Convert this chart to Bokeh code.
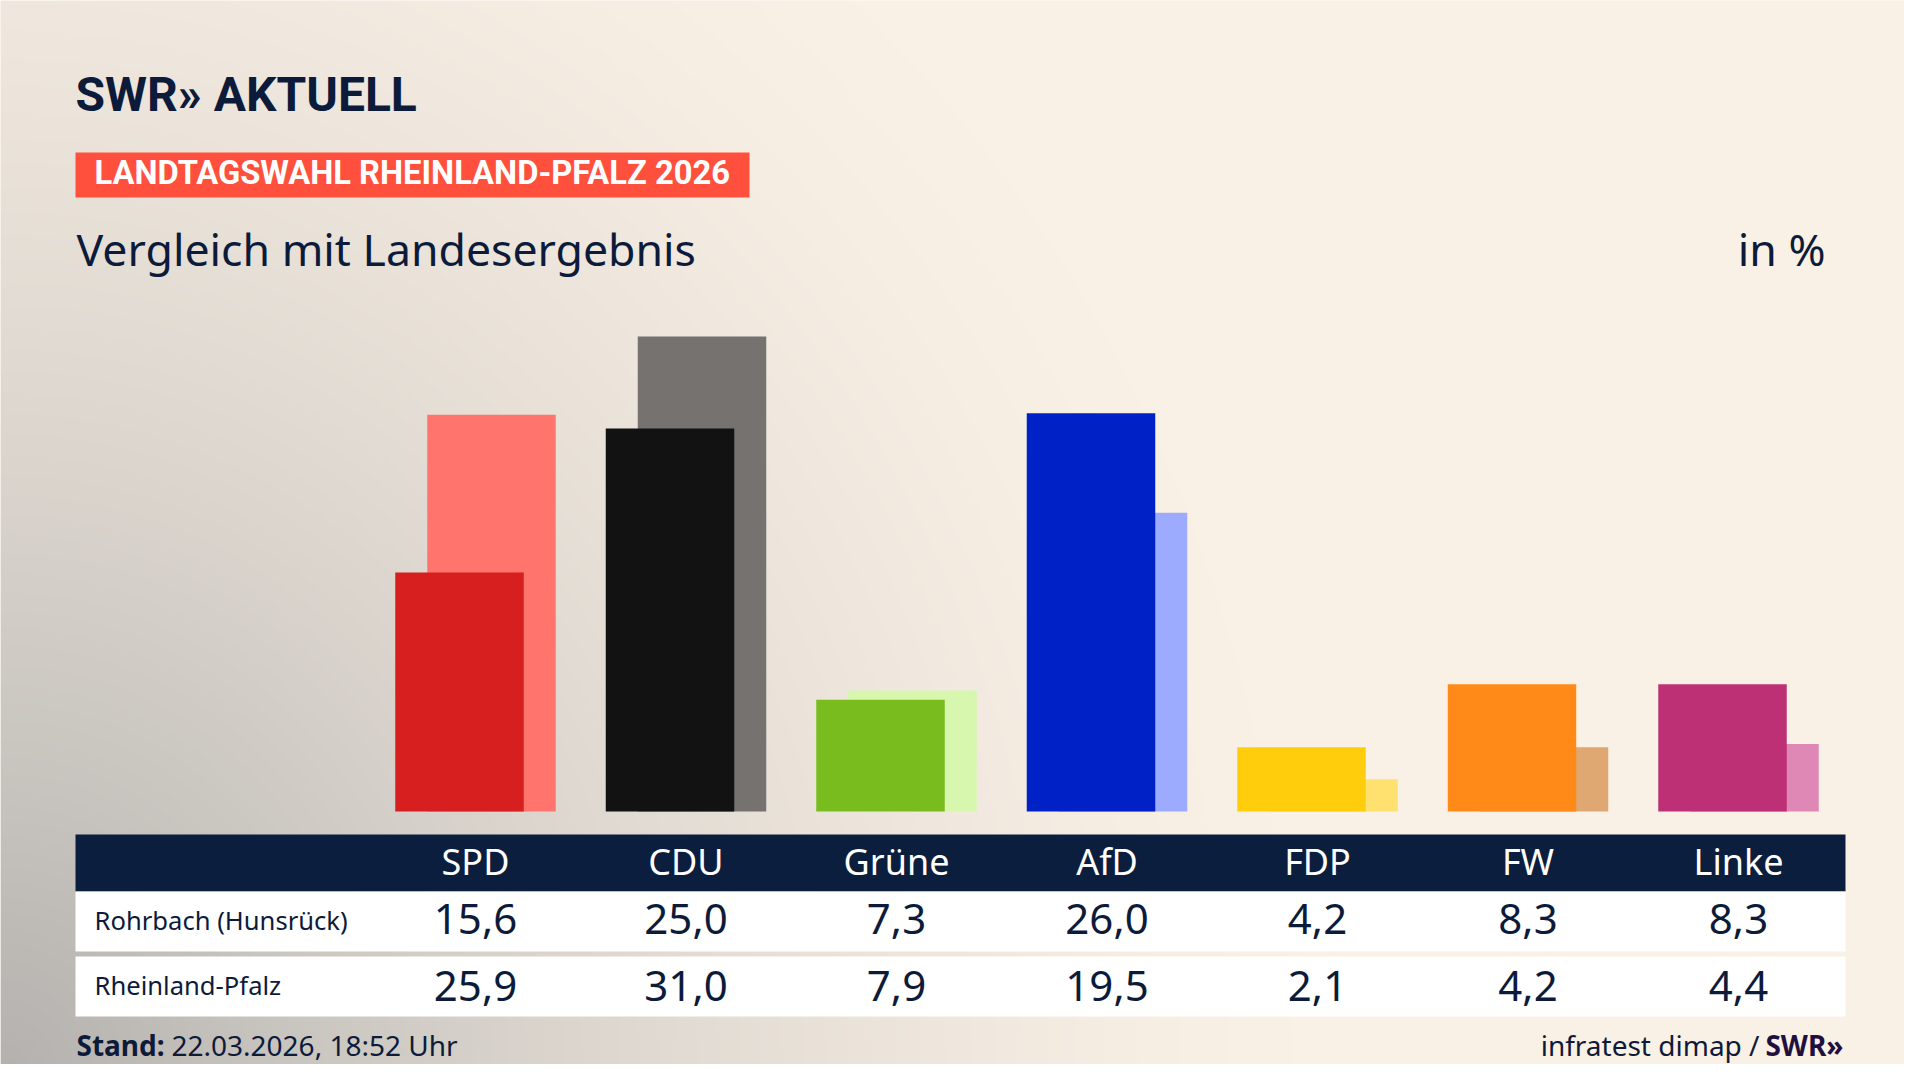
import numpy as np
from bokeh.plotting import figure
from bokeh.models import Range1d, Label, ColumnDataSource
from bokeh.transform import dodge
from bokeh.core.properties import value
from bokeh.embed import file_html
from bokeh.resources import INLINE

# ---------------- data ----------------
parties = ["SPD", "CDU", "Grüne", "AfD", "FDP", "FW", "Linke"]
rohrbach = [15.6, 25.0, 7.3, 26.0, 4.2, 8.3, 8.3]
landes = [25.9, 31.0, 7.9, 19.5, 2.1, 4.2, 4.4]
row_labels = ["Rohrbach (Hunsrück)", "Rheinland-Pfalz"]
dark_colors = ["#D71F1F", "#121212", "#78BC1E", "#0021C6", "#FFCD0C", "#FF8A18", "#BE3075"]
light_colors = ["#FF756D", "#75726F", "#D7F6AE", "#9DABFF", "#FFE16F", "#DFA771", "#DF88B6"]

title_logo = "SWR» AKTUELL"
kicker = "LANDTAGSWAHL RHEINLAND-PFALZ 2026"
subtitle = "Vergleich mit Landesergebnis"
unit = "in %"
stand_bold = "Stand:"
stand_text = "22.03.2026, 18:52 Uhr"
source_text = "infratest dimap /"
source_logo = "SWR»"

# ---------------- styling / layout ----------------
NAVY = "#0C1E3D"
TXT = "#0D1B3A"
CREAM = np.array([250, 241, 230], dtype=float)
GRAY = np.array([179, 177, 174], dtype=float)
W, H = 1904, 1064
SANS = "Noto Sans"
HEAVY = "Roboto"
K = 0.4  # empirical baseline correction (fraction of font size)


def Y(y_ref):
    """page pixel (from top) -> data y"""
    return 1080 - y_ref


def YB(y_ref, fs):
    """baseline position corrected for renderer offset"""
    return 1080 - (y_ref - K * fs)


p = figure(width=W, height=H, x_range=Range1d(0, W), y_range=Range1d(1080 - H, 1080),
           output_backend="svg", toolbar_location=None, min_border=0,
           x_axis_type=None, y_axis_type=None, outline_line_color=None,
           background_fill_color="#FAF1E6", border_fill_color="#FAF1E6")
p.grid.visible = False

# value scale for bars: 0 % at page y=811, 15.32 px per %
base_y, px_per = Y(811), 15.32
p.extra_y_ranges = {"pct": Range1d((1080 - H - base_y) / px_per, (1080 - base_y) / px_per)}
# party index scale: group centre 0 at x=475, spacing 210.5 px
c0, step = 475.0, 210.5
p.extra_x_ranges = {"idx": Range1d((0 - c0) / step, (W - c0) / step)}

# background gradient (grey towards bottom-left)
gw, gh = 952, 532
xs = np.linspace(0, W, gw)
ys_ref = 1080 - np.linspace(1080 - H, 1080, gh)
XX, YY = np.meshgrid(xs, ys_ref)
d = np.sqrt((XX / 1350.0) ** 2 + ((1080 - YY) / 1500.0) ** 2)
wgt = np.clip(1 - d, 0, 1) ** 1.5
rgb = CREAM + wgt[..., None] * (GRAY - CREAM)
img = np.zeros((gh, gw), dtype=np.uint32)
view = img.view(dtype=np.uint8).reshape((gh, gw, 4))
view[..., 0:3] = np.round(rgb).astype(np.uint8)
view[..., 3] = 255
p.image_rgba(image=[img], x=0, y=1080 - H, dw=W, dh=H)

# ---------------- bars ----------------
fmt = lambda v: f"{v:.1f}".replace(".", ",")
src = ColumnDataSource(dict(
    idx=list(range(len(parties))), party=parties, r=rohrbach, l=landes,
    dc=dark_colors, lc=light_colors,
    rlab=[fmt(v) for v in rohrbach], llab=[fmt(v) for v in landes]))

bw = 128.5 / step
off = 16.0 / step
p.vbar(x=dodge("idx", off), width=bw, bottom=0, top="l", source=src,
       fill_color="lc", line_color=None, x_range_name="idx", y_range_name="pct")
p.vbar(x=dodge("idx", -off), width=bw, bottom=0, top="r", source=src,
       fill_color="dc", line_color=None, x_range_name="idx", y_range_name="pct")

# ---------------- table ----------------
p.quad(left=[75], right=[1845], top=[Y(834)], bottom=[Y(891)], fill_color=NAVY, line_color=None)
p.quad(left=[75, 75], right=[1845, 1845], top=[Y(891), Y(956)], bottom=[Y(951), Y(1016)],
       fill_color="white", line_color=None)

p.text(x="idx", y=YB(875, 36), text="party", source=src, x_range_name="idx",
       text_align="center", text_baseline="alphabetic", text_color="white",
       text_font=value(SANS), text_font_size="36px")
p.text(x="idx", y=YB(935, 42), text="rlab", source=src, x_range_name="idx",
       text_align="center", text_baseline="alphabetic", text_color=TXT,
       text_font=value(SANS), text_font_size="42px")
p.text(x="idx", y=YB(1002, 42), text="llab", source=src, x_range_name="idx",
       text_align="center", text_baseline="alphabetic", text_color=TXT,
       text_font=value(SANS), text_font_size="42px")
p.text(x=[94, 94], y=[YB(930, 25.6), YB(995, 25.6)], text=row_labels,
       text_align="left", text_baseline="alphabetic", text_color=TXT,
       text_font=value(SANS), text_font_size="25.6px")

# ---------------- header ----------------
p.add_layout(Label(x=75, y=YB(113, 48), text=title_logo, text_font=HEAVY,
                   text_font_size="48px", text_font_style="bold", text_color=TXT,
                   text_baseline="alphabetic"))
p.quad(left=[75], right=[749], top=[Y(152)], bottom=[Y(197)], fill_color="#FF503D", line_color=None)
p.add_layout(Label(x=94, y=YB(186, 32.7), text=kicker, text_font=HEAVY,
                   text_font_size="32.7px", text_font_style="bold", text_color="white",
                   text_baseline="alphabetic"))
p.add_layout(Label(x=76, y=YB(266, 44.6), text=subtitle, text_font=SANS, text_font_size="44.6px",
                   text_color=TXT, text_baseline="alphabetic"))
p.add_layout(Label(x=1825, y=YB(266, 44.6), text=unit, text_font=SANS, text_font_size="44.6px",
                   text_color=TXT, text_baseline="alphabetic", text_align="right"))

# ---------------- footer ----------------
p.add_layout(Label(x=76, y=YB(1056, 28), text=stand_bold, text_font=SANS, text_font_size="28px",
                   text_font_style="bold", text_color=TXT, text_baseline="alphabetic"))
p.add_layout(Label(x=171, y=YB(1056, 28), text=stand_text, text_font=SANS, text_font_size="28px",
                   text_color=TXT, text_baseline="alphabetic"))
p.add_layout(Label(x=1759, y=YB(1056, 28), text=source_text, text_font=SANS, text_font_size="28px",
                   text_color=TXT, text_baseline="alphabetic", text_align="right"))
p.add_layout(Label(x=1843, y=YB(1056, 28), text=source_logo, text_font=SANS, text_font_size="28px",
                   text_font_style="bold", text_color="#1E1040", text_baseline="alphabetic",
                   text_align="right"))

open("out.html", "w").write(file_html(p, INLINE))
